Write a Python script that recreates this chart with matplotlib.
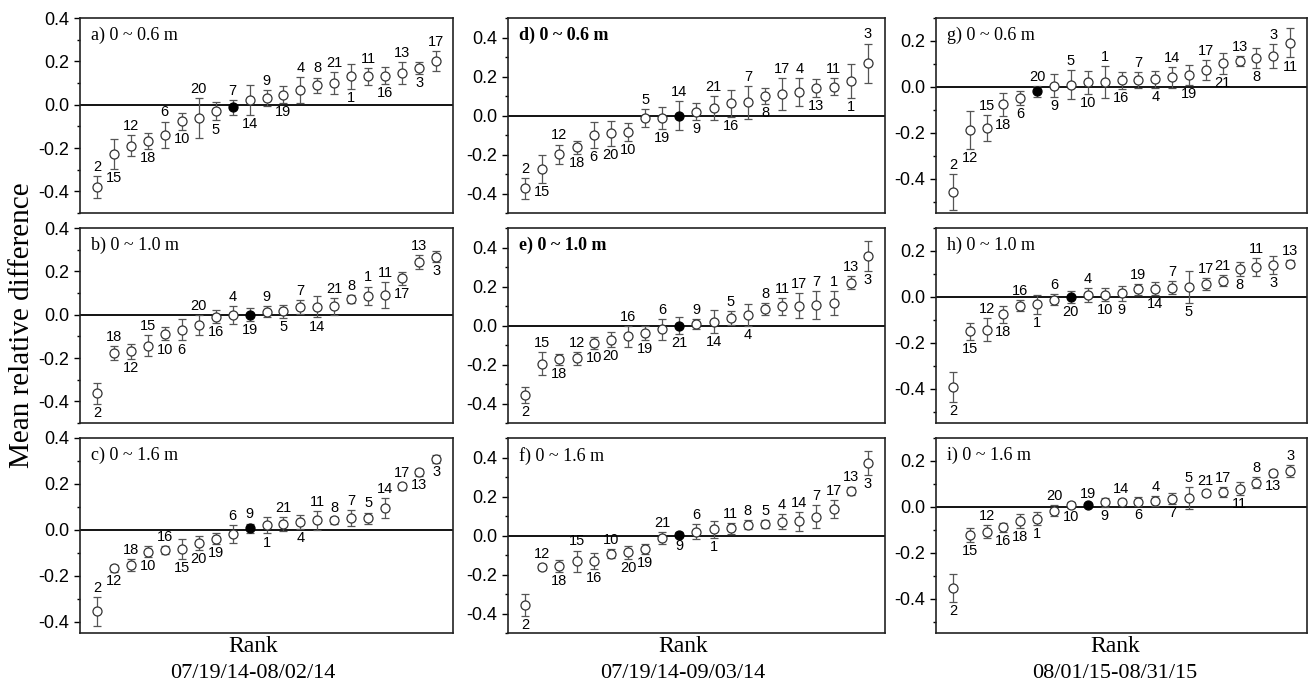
import numpy as np
import matplotlib.pyplot as plt
from matplotlib.ticker import MultipleLocator

plt.rcParams['font.family'] = 'Liberation Sans'

# Station ids in rank order, mean relative difference, std dev, label side (u = above, d = below)
# a) 07/19/14-08/02/14, 0 ~ 0.6 m
a_ids = [2, 15, 12, 18, 6, 10, 20, 5, 7, 14, 9, 19, 4, 8, 21, 1, 11, 16, 13, 3, 17]
a_mrd = [-0.38, -0.228, -0.189, -0.168, -0.138, -0.077, -0.062, -0.031, -0.012, 0.023, 0.031,
         0.046, 0.066, 0.089, 0.10, 0.131, 0.131, 0.134, 0.146, 0.169, 0.20]
a_err = [0.05, 0.07, 0.05, 0.035, 0.06, 0.04, 0.093, 0.042, 0.035, 0.07, 0.037,
         0.039, 0.06, 0.036, 0.05, 0.058, 0.04, 0.038, 0.052, 0.027, 0.046]
a_side = 'udududududud' + 'uuu' + 'dududu'

# b) 07/19/14-08/02/14, 0 ~ 1.0 m
b_ids = [2, 18, 12, 15, 10, 6, 20, 16, 4, 19, 9, 5, 7, 14, 21, 8, 1, 11, 17, 13, 3]
b_mrd = [-0.363, -0.177, -0.169, -0.143, -0.089, -0.069, -0.048, -0.009, -0.002, 0.0, 0.014,
         0.015, 0.034, 0.037, 0.038, 0.072, 0.088, 0.091, 0.168, 0.245, 0.268]
b_err = [0.049, 0.033, 0.035, 0.05, 0.03, 0.05, 0.045, 0.03, 0.04, 0.031, 0.026,
         0.03, 0.033, 0.05, 0.04, 0.017, 0.042, 0.06, 0.03, 0.032, 0.025]
b_side = 'dududd' + 'udududud' + 'uuuu' + 'dud'

# c) 07/19/14-08/02/14, 0 ~ 1.6 m
c_ids = [2, 12, 18, 10, 16, 15, 20, 19, 6, 9, 1, 21, 4, 11, 8, 7, 5, 14, 17, 13, 3]
c_mrd = [-0.356, -0.167, -0.153, -0.095, -0.087, -0.084, -0.058, -0.039, -0.019, 0.007, 0.019,
         0.025, 0.033, 0.041, 0.042, 0.051, 0.051, 0.095, 0.189, 0.25, 0.31]
c_err = [0.062, 0.015, 0.025, 0.025, 0.018, 0.045, 0.031, 0.024, 0.04, 0.02, 0.035,
         0.03, 0.03, 0.04, 0.015, 0.035, 0.024, 0.044, 0.017, 0.017, 0.018]
c_side = 'udududdduudud' + 'uuuuuu' + 'dd'

# d) 07/19/14-09/03/14, 0 ~ 0.6 m
d_ids = [2, 15, 12, 18, 6, 20, 10, 5, 19, 14, 9, 21, 16, 7, 8, 17, 4, 13, 11, 1, 3]
d_mrd = [-0.374, -0.273, -0.199, -0.163, -0.098, -0.091, -0.084, -0.013, -0.012, 0.0, 0.02,
         0.037, 0.062, 0.067, 0.101, 0.109, 0.121, 0.14, 0.148, 0.177, 0.269]
d_err = [0.052, 0.072, 0.05, 0.034, 0.067, 0.063, 0.048, 0.046, 0.055, 0.074, 0.042,
         0.061, 0.07, 0.086, 0.04, 0.082, 0.072, 0.046, 0.045, 0.088, 0.10]
d_side = 'ududddd' + 'udududu' + 'duududu'

# e) 07/19/14-09/03/14, 0 ~ 1.0 m
e_ids = [2, 15, 18, 12, 10, 20, 16, 19, 6, 21, 9, 14, 5, 4, 8, 11, 17, 7, 1, 13, 3]
e_mrd = [-0.356, -0.195, -0.173, -0.169, -0.09, -0.073, -0.056, -0.037, -0.02, 0.0, 0.008,
         0.02, 0.037, 0.054, 0.085, 0.098, 0.102, 0.105, 0.114, 0.22, 0.356]
e_err = [0.04, 0.06, 0.027, 0.032, 0.032, 0.038, 0.055, 0.037, 0.053, 0.042, 0.024,
         0.06, 0.035, 0.057, 0.03, 0.043, 0.065, 0.073, 0.062, 0.032, 0.078]
e_side = 'dududd' + 'udududud' + 'uuuuuu' + 'd'

# f) 07/19/14-09/03/14, 0 ~ 1.6 m
f_ids = [2, 12, 18, 15, 16, 10, 20, 19, 21, 9, 6, 1, 11, 8, 5, 4, 14, 7, 17, 13, 3]
f_mrd = [-0.356, -0.161, -0.156, -0.132, -0.131, -0.093, -0.085, -0.068, -0.012, 0.005, 0.02,
         0.031, 0.037, 0.054, 0.059, 0.071, 0.073, 0.097, 0.136, 0.229, 0.373]
f_err = [0.055, 0.017, 0.03, 0.055, 0.04, 0.024, 0.033, 0.025, 0.031, 0.014, 0.04,
         0.045, 0.028, 0.023, 0.022, 0.04, 0.048, 0.06, 0.048, 0.022, 0.062]
f_side = 'dudududd' + 'udud' + 'uuuuuuuu' + 'd'

# g) 08/01/15-08/31/15, 0 ~ 0.6 m
g_ids = [2, 12, 15, 18, 6, 20, 9, 5, 10, 1, 16, 7, 4, 14, 19, 17, 21, 13, 8, 3, 11]
g_mrd = [-0.458, -0.189, -0.179, -0.077, -0.048, -0.019, 0.004, 0.01, 0.019, 0.022, 0.029,
         0.029, 0.033, 0.041, 0.051, 0.073, 0.102, 0.112, 0.127, 0.135, 0.193]
g_err = [0.077, 0.083, 0.056, 0.05, 0.031, 0.024, 0.05, 0.065, 0.05, 0.07, 0.037,
         0.034, 0.038, 0.047, 0.044, 0.042, 0.044, 0.022, 0.044, 0.051, 0.065]
g_side = 'ududdu' + 'dududududududud'

# h) 08/01/15-08/31/15, 0 ~ 1.0 m
h_ids = [2, 15, 12, 18, 16, 1, 6, 20, 4, 10, 9, 19, 14, 7, 5, 17, 21, 8, 11, 3, 13]
h_mrd = [-0.393, -0.15, -0.143, -0.077, -0.039, -0.033, -0.012, 0.0, 0.007, 0.01, 0.015,
         0.033, 0.036, 0.039, 0.044, 0.055, 0.07, 0.121, 0.131, 0.138, 0.145]
h_err = [0.064, 0.038, 0.049, 0.036, 0.024, 0.043, 0.023, 0.025, 0.03, 0.03, 0.033,
         0.024, 0.029, 0.028, 0.069, 0.027, 0.024, 0.029, 0.04, 0.038, 0.016]
h_side = 'ddud' + 'ududud' + 'd' + 'udud' + 'uu' + 'dudu'

# i) 08/01/15-08/31/15, 0 ~ 1.6 m
i_ids = [2, 15, 12, 16, 18, 1, 20, 10, 19, 9, 14, 6, 4, 7, 5, 21, 17, 11, 8, 13, 3]
i_mrd = [-0.354, -0.123, -0.108, -0.09, -0.061, -0.051, -0.017, 0.009, 0.009, 0.019, 0.023,
         0.023, 0.026, 0.036, 0.038, 0.059, 0.066, 0.079, 0.105, 0.146, 0.156]
i_err = [0.061, 0.03, 0.03, 0.019, 0.031, 0.03, 0.025, 0.012, 0.008, 0.02, 0.013,
         0.02, 0.022, 0.025, 0.048, 0.013, 0.022, 0.028, 0.023, 0.016, 0.025]
i_side = 'dduddd' + 'ududududu' + 'uu' + 'dudu'

titles = ['a) 0 ~ 0.6 m', 'b) 0 ~ 1.0 m', 'c) 0 ~ 1.6 m',
          'd) 0 ~ 0.6 m', 'e) 0 ~ 1.0 m', 'f) 0 ~ 1.6 m',
          'g) 0 ~ 0.6 m', 'h) 0 ~ 1.0 m', 'i) 0 ~ 1.6 m']
ref_station = [7, 19, 9, 14, 21, 9, 20, 20, 19]
periods = ['07/19/14-08/02/14', '07/19/14-09/03/14', '08/01/15-08/31/15']

panels = [(a_ids, a_mrd, a_err, a_side), (b_ids, b_mrd, b_err, b_side), (c_ids, c_mrd, c_err, c_side),
          (d_ids, d_mrd, d_err, d_side), (e_ids, e_mrd, e_err, e_side), (f_ids, f_mrd, f_err, f_side),
          (g_ids, g_mrd, g_err, g_side), (h_ids, h_mrd, h_err, h_side), (i_ids, i_mrd, i_err, i_side)]

# layout in pixels
W, H = 1311, 686
col_left = [80, 508, 936]
col_right = [453, 885, 1307]
row_top = [18, 228, 438]
row_h = 195
ylims = [[(-0.5, 0.4), (-0.5, 0.4), (-0.45, 0.4)],
         [(-0.5, 0.5), (-0.5, 0.5), (-0.5, 0.5)],
         [(-0.55, 0.3), (-0.55, 0.3), (-0.55, 0.3)]]

fig = plt.figure(figsize=(W / 100, H / 100), dpi=100)

for k, (ids, mrd, err, side) in enumerate(panels):
    col, row = k // 3, k % 3
    l = col_left[col] / W
    w = (col_right[col] - col_left[col]) / W
    b = 1 - (row_top[row] + row_h) / H
    ax = fig.add_axes([l, b, w, row_h / H])

    x = np.arange(1, len(ids) + 1)
    mrd = np.array(mrd)
    err = np.array(err)
    ids = np.array(ids)
    ref = ids == ref_station[k]

    ax.axhline(0, color='k', lw=1.3, zorder=1)
    ax.errorbar(x, mrd, yerr=err, fmt='none', ecolor='#555555', elinewidth=0.9,
                capsize=3, capthick=0.9, zorder=2)
    ax.plot(x[~ref], mrd[~ref], 'o', ms=6.5, mfc='white', mec='#333333', mew=0.9, zorder=3)
    ax.plot(x[ref], mrd[ref], 'o', ms=6.5, mfc='black', mec='black', mew=0.9, zorder=3)

    for xi, sid, m, e, s in zip(x, ids, mrd, err, side):
        if s == 'u':
            ax.annotate(str(sid), (xi, m + e), xytext=(0, 1.5), textcoords='offset points',
                        ha='center', va='bottom', fontsize=10.5)
        else:
            ax.annotate(str(sid), (xi, m - e), xytext=(0, -1.5), textcoords='offset points',
                        ha='center', va='top', fontsize=10.5)

    weight = 'bold' if k in (3, 4) else 'normal'
    ax.text(0.029, 0.91, titles[k], transform=ax.transAxes, family='Liberation Serif',
            fontsize=13, va='center', ha='left', weight=weight)

    ax.set_xlim(0, 22)
    ax.set_ylim(*ylims[col][row])
    ax.yaxis.set_major_locator(MultipleLocator(0.2))
    ax.yaxis.set_minor_locator(MultipleLocator(0.1))
    ax.set_xticks([])
    ax.tick_params(axis='y', which='major', direction='out', length=4, width=1, labelsize=13)
    ax.tick_params(axis='y', which='minor', direction='out', length=2.5, width=1)
    ax.yaxis.set_major_formatter(plt.FuncFormatter(lambda v, p: f'{v:.1f}'))
    for sp in ax.spines.values():
        sp.set_linewidth(1.2)
        sp.set_color('#222222')

# column labels
rank_x = [253, 683, 1115]
for col in range(3):
    fig.text(rank_x[col] / W, 1 - 647 / H, 'Rank', family='Liberation Serif',
             fontsize=17, ha='center', va='center')
    fig.text(rank_x[col] / W, 1 - 673 / H, periods[col], family='Liberation Serif',
             fontsize=16, ha='center', va='center')

fig.text(22 / W, 1 - 325 / H, 'Mean relative difference', family='Liberation Serif',
         fontsize=21, rotation=90, ha='center', va='center')

fig.savefig('out.png', dpi=100)
